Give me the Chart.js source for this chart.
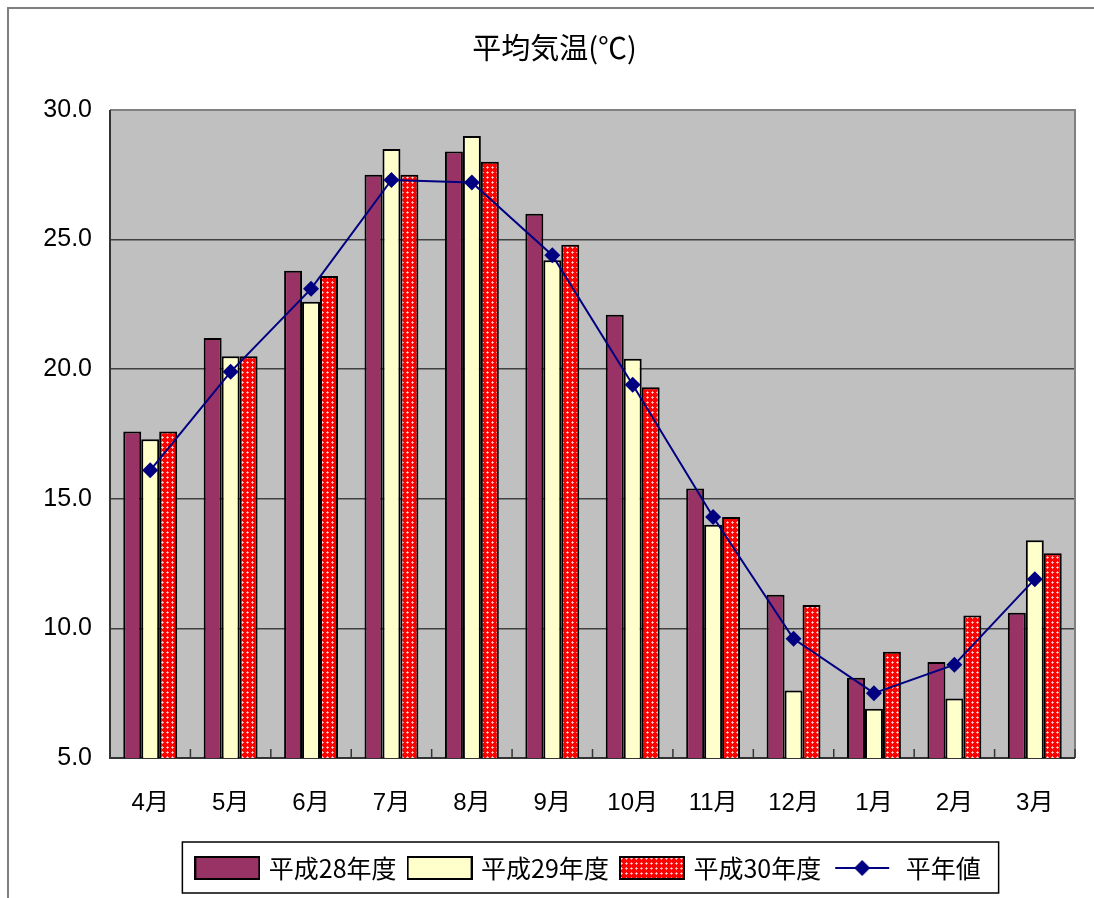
<!DOCTYPE html>
<html>
<head>
<meta charset="utf-8">
<script src="https://cdn.jsdelivr.net/npm/chart.js@4/dist/chart.umd.min.js"></script>
<style>
  html, body { margin: 0; padding: 0; background: #fff; }
  #wrap { width: 1094px; height: 898px; }
</style>
</head>
<body>
<div id="wrap"><canvas id="kion" width="1094" height="898"></canvas></div>
<script>
const months = ['4月', '5月', '6月', '7月', '8月', '9月', '10月', '11月', '12月', '1月', '2月', '3月'];
const h28 = [17.6, 21.2, 23.8, 27.5, 28.4, 26.0, 22.1, 15.4, 11.3, 8.1, 8.7, 10.6];
const h29 = [17.3, 20.5, 22.6, 28.5, 29.0, 24.2, 20.4, 14.0, 7.6, 6.9, 7.3, 13.4];
const h30 = [17.6, 20.5, 23.6, 27.5, 28.0, 24.8, 19.3, 14.3, 10.9, 9.1, 10.5, 12.9];
const heinen = [16.1, 19.9, 23.1, 27.3, 27.2, 24.4, 19.4, 14.3, 9.6, 7.5, 8.6, 11.9];
const seriesNames = ['平成28年度', '平成29年度', '平成30年度', '平年値'];

const fontFam = "'Liberation Sans', Arial, 'Noto Sans CJK JP', sans-serif";
const cjkFam = "'Noto Sans CJK JP', 'Liberation Sans', sans-serif";

// red lattice fill for 平成30年度
function makePattern() {
    const c = document.createElement('canvas');
    c.width = 5; c.height = 5;
    const g = c.getContext('2d');
    g.fillStyle = '#ff0000';
    g.fillRect(0, 0, 5, 5);
    g.fillStyle = '#ff9c9c';
    g.fillRect(2, 1, 1, 3);
    g.fillRect(1, 2, 3, 1);
    g.fillStyle = '#ffe0e0';
    g.fillRect(2, 2, 1, 1);
    return g.createPattern(c, 'repeat');
}
const redPattern = makePattern();

// legend swatches
function swatch(fill) {
    const c = document.createElement('canvas');
    c.width = 66; c.height = 24;
    const g = c.getContext('2d');
    g.fillStyle = fill;
    g.fillRect(1, 1, 64, 22);
    g.strokeStyle = '#000';
    g.lineWidth = 2;
    g.strokeRect(1, 1, 64, 22);
    return c;
}
function lineSwatch() {
    const c = document.createElement('canvas');
    c.width = 66; c.height = 24;
    const g = c.getContext('2d');
    g.strokeStyle = '#000080';
    g.lineWidth = 2;
    g.beginPath(); g.moveTo(4, 12); g.lineTo(58, 12); g.stroke();
    g.fillStyle = '#000080';
    g.beginPath();
    g.moveTo(31, 4); g.lineTo(39, 12); g.lineTo(31, 20); g.lineTo(23, 12);
    g.closePath(); g.fill();
    return c;
}
const legendIcons = [swatch('#993366'), swatch('#ffffcc'), swatch(redPattern), lineSwatch()];

const framePlugin = {
    id: 'frame',
    afterUpdate(chart) {
        // the original legend and title sit a little right of centre
        const lg = chart.legend;
        lg.left += 48; lg.right += 48;
        lg.adjustHitBoxes();
        const t = chart.titleBlock;
        if (t) { t.left += 13; t.right += 13; }
    },
    beforeDraw(chart) {
        const { ctx, chartArea: a } = chart;
        ctx.save();
        ctx.fillStyle = '#fff';
        ctx.fillRect(0, 0, chart.width, chart.height);
        ctx.fillStyle = '#c0c0c0';
        ctx.fillRect(a.left, a.top, a.right - a.left, a.bottom - a.top);
        // outer frame (left & top visible)
        ctx.strokeStyle = '#7f7f7f';
        ctx.lineWidth = 2;
        ctx.strokeRect(8, 8, chart.width + 20, chart.height + 20);
        ctx.restore();
    },
    beforeDatasetsDraw(chart) {
        const { ctx, chartArea: a, scales } = chart;
        ctx.save();
        ctx.lineWidth = 2;
        ctx.strokeStyle = '#808080';
        ctx.beginPath();
        ctx.moveTo(a.left, a.top); ctx.lineTo(a.right, a.top); ctx.lineTo(a.right, a.bottom);
        ctx.stroke();
        ctx.strokeStyle = '#333';
        ctx.beginPath();
        ctx.moveTo(a.left, a.top); ctx.lineTo(a.left, a.bottom); ctx.lineTo(a.right, a.bottom);
        ctx.stroke();
        // category separator ticks at the bottom
        const x = scales.x;
        ctx.lineWidth = 1.5;
        for (let i = 0; i <= months.length; i++) {
            const px = x.getPixelForValue(i - 0.5);
            ctx.beginPath();
            ctx.moveTo(px, a.bottom);
            ctx.lineTo(px, a.bottom - 9);
            ctx.stroke();
        }
        ctx.restore();
    },
    afterDraw(chart) {
        const boxes = chart.legend.legendHitBoxes;
        if (!boxes || !boxes.length) return;
        const first = boxes[0], last = boxes[boxes.length - 1];
        const ctx = chart.ctx;
        ctx.save();
        ctx.strokeStyle = '#000';
        ctx.lineWidth = 1.5;
        const x0 = first.left - 16, x1 = last.left + last.width + 18;
        ctx.strokeRect(x0, 842, x1 - x0, 51);
        ctx.restore();
    }
};

new Chart(document.getElementById('kion'), {
    type: 'bar',
    data: {
        labels: months,
        datasets: [
            { label: seriesNames[0], data: h28, backgroundColor: '#993366', borderColor: '#000', borderWidth: 2, categoryPercentage: 0.67, barPercentage: 1.0 },
            { label: seriesNames[1], data: h29, backgroundColor: '#ffffcc', borderColor: '#000', borderWidth: 2, categoryPercentage: 0.67, barPercentage: 1.0 },
            { label: seriesNames[2], data: h30, backgroundColor: redPattern, borderColor: '#000', borderWidth: 2, categoryPercentage: 0.67, barPercentage: 1.0 },
            {
                type: 'line', label: seriesNames[3], data: heinen,
                borderColor: '#000080', backgroundColor: '#000080', borderWidth: 2,
                pointStyle: 'rectRot', pointRadius: 8, pointBorderWidth: 0,
                tension: 0, order: -1
            }
        ]
    },
    options: {
        responsive: false,
        animation: false,
        devicePixelRatio: 1,
        layout: { padding: { left: 8, right: 19, top: 0, bottom: 7.5 } },
        plugins: {
            tooltip: { enabled: false },
            title: {
                display: true,
                text: '平均気温(℃)',
                color: '#000',
                font: { family: cjkFam, size: 29, weight: 'normal' },
                padding: { top: 30.6, bottom: 44.6 }
            },
            legend: {
                position: 'bottom',
                labels: {
                    usePointStyle: true,
                    pointStyleWidth: 58,
                    boxHeight: 22,
                    padding: 14,
                    color: '#000',
                    font: { family: cjkFam, size: 25 },
                    generateLabels: (chart) => chart.data.datasets.map((ds, i) => ({
                        text: ds.label,
                        pointStyle: legendIcons[i],
                        datasetIndex: i,
                        hidden: false,
                        lineWidth: 0,
                        fontColor: '#000'
                    }))
                }
            }
        },
        scales: {
            x: {
                grid: { display: false, drawTicks: false },
                border: { display: false },
                ticks: { color: '#000', padding: 31, font: { family: fontFam, size: 24 } },
                afterFit: (s) => { s.height = 83.5; }
            },
            y: {
                min: 5, max: 30,
                grid: { color: '#404040', lineWidth: 1.5, drawTicks: false },
                border: { display: false },
                ticks: {
                    stepSize: 5, color: '#000', padding: 18,
                    font: { family: fontFam, size: 25 },
                    callback: (v) => Number(v).toFixed(1)
                },
                afterFit: (s) => { s.width = 102; }
            }
        }
    },
    plugins: [framePlugin]
});
</script>
</body>
</html>
